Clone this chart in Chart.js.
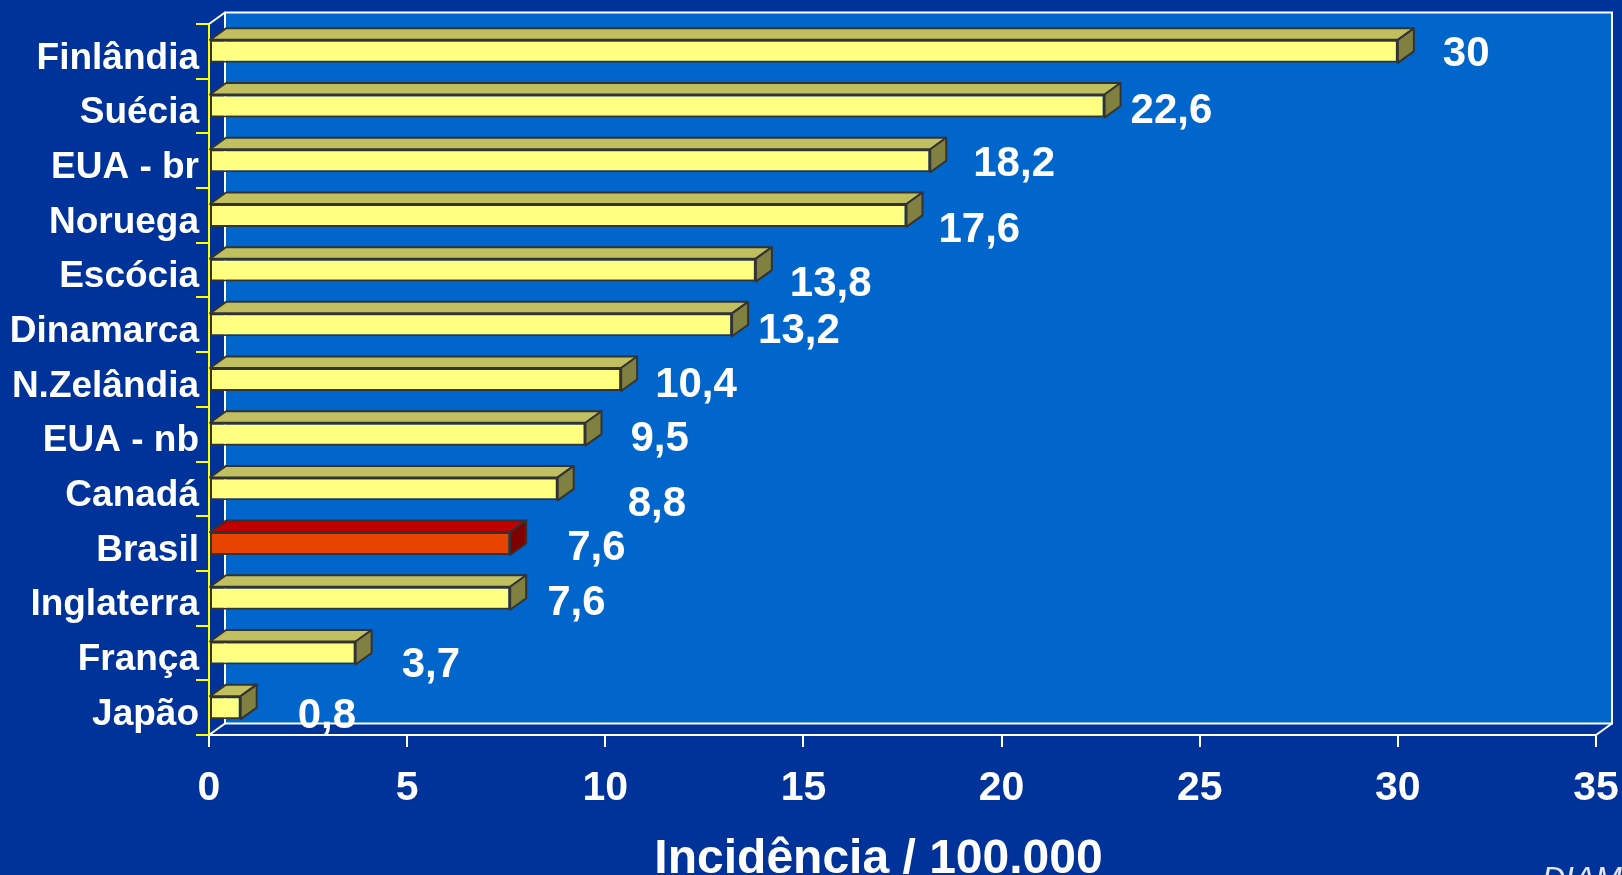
<!DOCTYPE html>
<html>
<head>
<meta charset="utf-8">
<title>Incidência / 100.000</title>
<script src="https://cdn.jsdelivr.net/npm/chart.js@4.4.1/dist/chart.umd.min.js"></script>
<style>
  html, body { margin: 0; padding: 0; background: #003399; overflow: hidden; }
  #wrap { width: 1622px; height: 875px; position: relative; }
</style>
</head>
<body>
<div id="wrap"><canvas id="chart" width="1622" height="875"></canvas></div>
<script>
// -------------------- Data --------------------
const countries = ["Finlândia", "Suécia", "EUA - br", "Noruega", "Escócia", "Dinamarca",
  "N.Zelândia", "EUA - nb", "Canadá", "Brasil", "Inglaterra", "França", "Japão"];
const incidence = [30, 22.6, 18.2, 17.6, 13.8, 13.2, 10.4, 9.5, 8.8, 7.6, 7.6, 3.7, 0.8];
const highlighted = "Brasil";
const axisTitle = "Incidência / 100.000";

// -------------------- Look --------------------
const FONT = "'Liberation Sans', Arial, Helvetica, sans-serif";
const DX = 16, DY = -11.5;           // depth of the 3D box
const WALL = "#0066CC";
const faces = {
  normal:    { front: "#FFFF80", top: "#C0C060", side: "#808040" },
  highlight: { front: "#E84400", top: "#C00000", side: "#800000" }
};
// value label nudges from the bar end (px), the labels sit a bit loosely
const labelNudge = [[45, 3], [26, 5], [43, 4], [32, 15], [34, 14], [26, 7], [34, 6],
  [45, 5], [70, 16], [57, 5], [37, 5], [46, 12], [57, 9]];

function facesFor(i) {
  return countries[i] === highlighted ? faces.highlight : faces.normal;
}

function poly(ctx, pts, fill) {
  ctx.beginPath();
  ctx.moveTo(pts[0][0], pts[0][1]);
  pts.slice(1).forEach(p => ctx.lineTo(p[0], p[1]));
  ctx.closePath();
  ctx.fillStyle = fill;
  ctx.fill();
  ctx.stroke();
}

// back wall, box edges, bar tops/sides and value labels
const box3d = {
  id: "box3d",
  beforeDatasetsDraw(chart) {
    const { ctx, chartArea: a } = chart;
    ctx.save();
    ctx.fillStyle = WALL;
    ctx.fillRect(a.left + DX, a.top + DY, a.right - a.left, a.bottom - a.top);
    ctx.strokeStyle = "#FFFFFF";
    ctx.lineWidth = 2;
    ctx.strokeRect(a.left + DX, a.top + DY, a.right - a.left, a.bottom - a.top);
    ctx.beginPath();
    [[a.left, a.top], [a.left, a.bottom], [a.right, a.bottom]].forEach(([x, y]) => {
      ctx.moveTo(x, y);
      ctx.lineTo(x + DX, y + DY);
    });
    ctx.stroke();
    ctx.restore();
  },
  afterDatasetsDraw(chart) {
    const ctx = chart.ctx;
    const meta = chart.getDatasetMeta(0);
    ctx.save();
    ctx.lineWidth = 2;
    ctx.lineJoin = "round";
    ctx.strokeStyle = "#333333";
    meta.data.forEach((bar, i) => {
      const { x, y, base, height } = bar.getProps(["x", "y", "base", "height"], true);
      const top = y - height / 2, bottom = y + height / 2;
      const c = facesFor(i);
      poly(ctx, [[base, top], [x, top], [x + DX, top + DY], [base + DX, top + DY]], c.top);
      poly(ctx, [[x, top], [x + DX, top + DY], [x + DX, bottom + DY], [x, bottom]], c.side);
    });
    ctx.fillStyle = "#FFFFFF";
    ctx.font = "bold 42px " + FONT;
    ctx.textAlign = "left";
    ctx.textBaseline = "middle";
    meta.data.forEach((bar, i) => {
      const n = labelNudge[i];
      ctx.fillText(String(incidence[i]).replace(".", ","), bar.x + n[0], bar.y + n[1]);
    });
    ctx.restore();
  },
  afterDraw(chart) {
    const { ctx, chartArea: a } = chart;
    ctx.save();
    ctx.fillStyle = "#FFFFFF";
    ctx.font = "bold 48px " + FONT;
    ctx.textAlign = "center";
    ctx.textBaseline = "alphabetic";
    ctx.fillText(axisTitle, (a.left + a.right) / 2 - 24, 873);
    ctx.fillStyle = "#E6E6F0";
    ctx.font = "italic 32px " + FONT;
    ctx.textAlign = "left";
    ctx.fillText("DIAMOND", 1542, 889);
    ctx.restore();
  }
};

new Chart(document.getElementById("chart"), {
  type: "bar",
  data: {
    labels: countries,
    datasets: [{
      data: incidence,
      backgroundColor: countries.map((c, i) => facesFor(i).front),
      borderColor: "#333333",
      borderWidth: 2,
      borderSkipped: false,
      barPercentage: 0.42,
      categoryPercentage: 1
    }]
  },
  options: {
    indexAxis: "y",
    responsive: false,
    animation: false,
    events: [],
    layout: { padding: { top: 24, right: 26, left: 0, bottom: 0 } },
    plugins: { legend: { display: false }, tooltip: { enabled: false } },
    scales: {
      x: {
        min: 0, max: 35,
        afterFit(scale) {
          scale.height = 140;
          // the end labels may hang past the box, keep the box width fixed
          scale.paddingLeft = 0;
          scale.paddingRight = 0;
        },
        ticks: { stepSize: 5, color: "#FFFFFF", padding: 17, font: { family: FONT, size: 41, weight: "bold" } },
        grid: { drawOnChartArea: false, tickLength: 12, color: "#FFFFFF", lineWidth: 2 },
        border: { color: "#FFFFFF", width: 2 }
      },
      y: {
        z: 1,
        afterFit(scale) { scale.width = 209; },
        ticks: { color: "#FFFFFF", padding: -3, labelOffset: 7, font: { family: FONT, size: 37, weight: "bold" } },
        grid: { drawOnChartArea: false, tickLength: 13, color: "#FFFF00", lineWidth: 2 },
        border: { color: "#FFFF00", width: 2 }
      }
    }
  },
  plugins: [box3d]
});
</script>
</body>
</html>
